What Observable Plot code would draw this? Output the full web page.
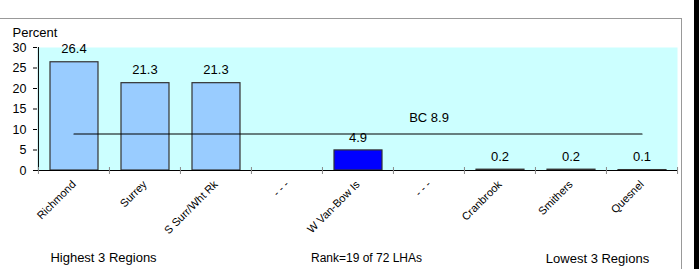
<!DOCTYPE html>
<html><head><meta charset="utf-8">
<script src="https://cdn.jsdelivr.net/npm/d3@7"></script>
<script src="https://cdn.jsdelivr.net/npm/@observablehq/plot@0.6"></script>
<style>body{margin:0;background:#fff;overflow:hidden} svg{display:block}</style>
</head><body><div id="chart"></div>
<script>
const categories = ["Richmond","Surrey","S Surr/Wht Rk","- - -","W Van-Bow Is","- - - ","Cranbrook","Smithers","Quesnel"];
const values = [26.4, 21.3, 21.3, null, 4.9, null, 0.2, 0.2, 0.1];
const highlight = "W Van-Bow Is";
const bcValue = 8.9;
const bcLabel = "BC 8.9";
const yTicks = [0, 5, 10, 15, 20, 25, 30];
const yLabel = "Percent";
const captions = ["Highest 3 Regions", "Rank=19 of 72 LHAs", "Lowest 3 Regions"];

const W = 699, H = 269, mL = 37, mR = 22, mT = 47, mB = 99;
const step = (W - mL - mR) / categories.length;
const font = "'Liberation Sans', Arial, sans-serif";

const data = categories.map((c, i) => ({cat: c, value: values[i]}));
const bars = data.filter(d => d.value != null);
const bcLine = [{cat: categories[0], v: bcValue}, {cat: categories[categories.length - 1], v: bcValue}];

const plot = Plot.plot({
  width: W, height: H,
  marginLeft: mL, marginRight: mR, marginTop: mT, marginBottom: mB,
  style: {fontFamily: font, background: "white", color: "black"},
  x: {domain: categories, padding: 0, label: null},
  y: {domain: [0, 30], label: null},
  marks: [
    Plot.frame({fill: "#CCFFFF", stroke: "none"}),
    Plot.barY(bars, {x: "cat", y: "value", insetLeft: 12, insetRight: 11,
      fill: d => d.cat === highlight ? "#0000FF" : "#99CCFF", stroke: "#333", strokeWidth: 1.2}),
    Plot.line(bcLine, {x: "cat", y: "v", stroke: "black", strokeWidth: 1.2}),
    Plot.text([bcLabel], {x: [categories[5]], y: [bcValue], text: d => d, dy: -16, fontSize: 13}),
    Plot.text(bars, {x: "cat", y: "value", text: d => d.value.toFixed(1), dy: -13, fontSize: 13}),
    Plot.ruleY([0], {stroke: "black", strokeWidth: 1.2}),
    Plot.ruleX([categories[0]], {dx: -step / 2, stroke: "black"}),
    Plot.ruleX(categories, {dx: -step / 2, stroke: "#888", insetTop: 120, insetBottom: -4}),
    Plot.ruleX([categories[categories.length - 1]], {dx: step / 2, stroke: "#888", insetTop: 120, insetBottom: -4}),
    Plot.axisY({ticks: yTicks, tickSize: 4, tickPadding: 7, fontSize: 12.5, label: null}),
    Plot.axisX({tickRotate: -45, tickSize: 0, tickPadding: 12, fontSize: 11, label: null, tickFormat: d => d.trim()}),
    Plot.text([yLabel], {frameAnchor: "top-left", text: d => d, dx: -25, dy: -14.5, textAnchor: "start", lineAnchor: "middle", fontSize: 13}),
    Plot.text([captions[0]], {frameAnchor: "bottom-left", text: d => d, dx: 103 - mL, dy: 87, textAnchor: "middle", lineAnchor: "middle", fontSize: 13}),
    Plot.text([captions[1]], {frameAnchor: "bottom-left", text: d => d, dx: 366 - mL, dy: 88, textAnchor: "middle", lineAnchor: "middle", fontSize: 12}),
    Plot.text([captions[2]], {frameAnchor: "bottom-left", text: d => d, dx: 597 - mL, dy: 88, textAnchor: "middle", lineAnchor: "middle", fontSize: 13})
  ]
});

const svg = d3.select(plot);
svg.append("line").attr("x1", 0).attr("x2", 681).attr("y1", 18.5).attr("y2", 18.5).attr("stroke", "#999");
svg.append("line").attr("x1", 681.5).attr("x2", 681.5).attr("y1", 18).attr("y2", H).attr("stroke", "#999");
svg.append("rect").attr("x", 694).attr("y", 0).attr("width", 5).attr("height", H).attr("fill", "black");
document.getElementById("chart").appendChild(plot);
</script>
</body></html>
